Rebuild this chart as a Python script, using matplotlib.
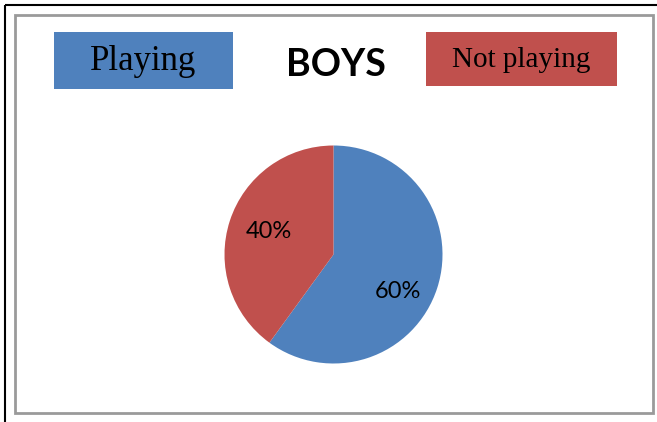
import matplotlib.pyplot as plt
from matplotlib.patches import Rectangle

# data
labels = ['Playing', 'Not playing']
shares = [60, 40]
colors = ['#4F81BD', '#C0504D']
title = 'BOYS'

W, H = 657, 422
fig = plt.figure(figsize=(W / 100, H / 100), dpi=100)
ax = fig.add_axes([0, 0, 1, 1])


def py(y):
    # y measured from the top of the picture
    return H - y


# pie, clockwise from 12 o'clock
ax.pie(shares, colors=colors, startangle=90, counterclock=False,
       center=(333.5, py(254.5)), radius=109, frame=True,
       wedgeprops=dict(linewidth=0))
ax.set_xlim(0, W)
ax.set_ylim(0, H)
ax.set_aspect('auto')
ax.axis('off')

# frames
ax.plot([5, W], [py(5), py(5)], color='black', lw=1.5, solid_capstyle='butt')
ax.plot([5, 5], [py(5), 0], color='black', lw=1.5, solid_capstyle='butt')
ax.add_patch(Rectangle((15, py(413)), 638, 398, fill=False, ec='#9a9a9a', lw=2))

pct_pos = [(398, 291), (269, 231)]
for v, (x, y) in zip(shares, pct_pos):
    ax.text(x, py(y), '{0}%'.format(v), ha='center', va='center',
            fontsize=17, family='Lato', color='black')

# legend boxes
boxes = [(54, 32, 179, 57, 25), (426, 32, 191, 54, 21)]
for lab, col, (x, y, w, h, fs) in zip(labels, colors, boxes):
    ax.add_patch(Rectangle((x, py(y + h)), w, h, color=col, lw=0))
    ax.text(x + w / 2, py(y + h / 2) - 1, lab, ha='center', va='center',
            fontsize=fs, family='Liberation Serif', color='black')

ax.text(336, py(65), title, ha='center', va='center', fontsize=27,
        fontweight='bold', family='Lato', color='black')

fig.savefig('out.png', dpi=100)
